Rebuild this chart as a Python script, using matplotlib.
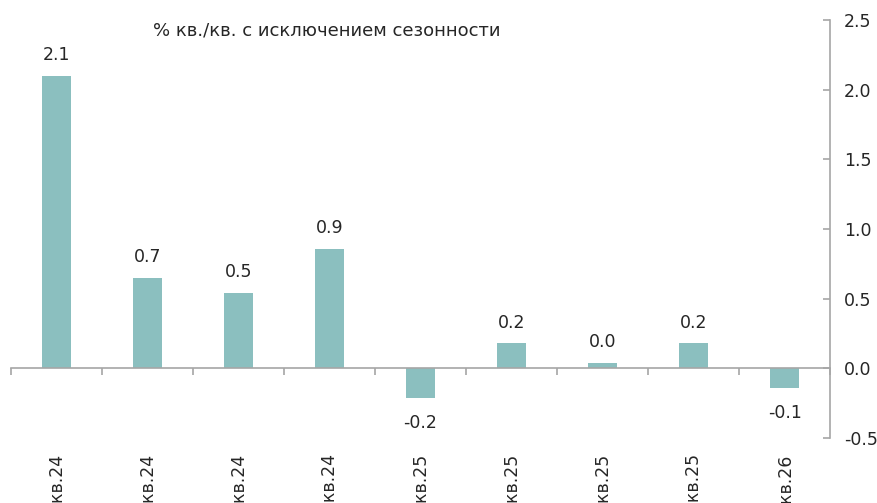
import matplotlib.pyplot as plt
import numpy as np

quarters = ["1кв.24", "2кв.24", "3кв.24", "4кв.24", "1кв.25",
            "2кв.25", "3кв.25", "4кв.25", "1кв.26"]
growth = [2.10, 0.65, 0.545, 0.86, -0.21, 0.18, 0.04, 0.18, -0.14]
yticks = [-0.5, 0.0, 0.5, 1.0, 1.5, 2.0, 2.5]

bar_color = "#8bbfbf"
axis_color = "#a6a6a6"
text_color = "#262626"

plt.rcParams['font.family'] = ['DejaVu Sans']

fig = plt.figure(figsize=(8.78, 5.03), dpi=100)
ax = fig.add_axes([0.0125, 0.129, 0.933, 0.831])

x = np.arange(len(quarters))
ax.bar(x, growth, width=0.32, color=bar_color, zorder=2)

for xi, v in zip(x, growth):
    off = 15 if v >= 0 else -18
    ax.annotate(f"{v:.1f}", (xi, v), xytext=(0, off), textcoords="offset points",
                ha="center", va="center", fontsize=12.5, color=text_color)

ax.set_xlim(-0.5, len(quarters) - 0.5)
ax.set_ylim(-0.5, 2.5)

# x axis sits on zero, category ticks between bars
for s in ["top", "left"]:
    ax.spines[s].set_visible(False)
ax.spines["bottom"].set_position(("data", 0))
ax.spines["bottom"].set_color(axis_color)
ax.spines["bottom"].set_linewidth(1.2)
ax.spines["right"].set_color(axis_color)
ax.spines["right"].set_linewidth(1.2)

ax.set_xticks(np.arange(len(quarters) + 1) - 0.5, minor=False)
ax.set_xticklabels([])
ax.set_xticks(x, minor=True)
ax.set_xticklabels(quarters, minor=True, rotation=90, va="top", fontsize=12.5, color=text_color)
ax.tick_params(axis="x", which="major", direction="out", length=5, color=axis_color, width=1.2)
ax.tick_params(axis="x", which="minor", length=0, pad=61)

ax.yaxis.tick_right()
ax.set_yticks(yticks)
ax.set_yticklabels([f"{t:.1f}" for t in yticks])
ax.tick_params(axis="y", direction="in", length=5, color=axis_color, width=1.2,
               labelsize=12.5, labelcolor=text_color, pad=10)

fig.text(0.372, 0.94, "% кв./кв. с исключением сезонности", ha="center", va="center",
         fontsize=13, color=text_color)

fig.savefig("out.png", dpi=100)
